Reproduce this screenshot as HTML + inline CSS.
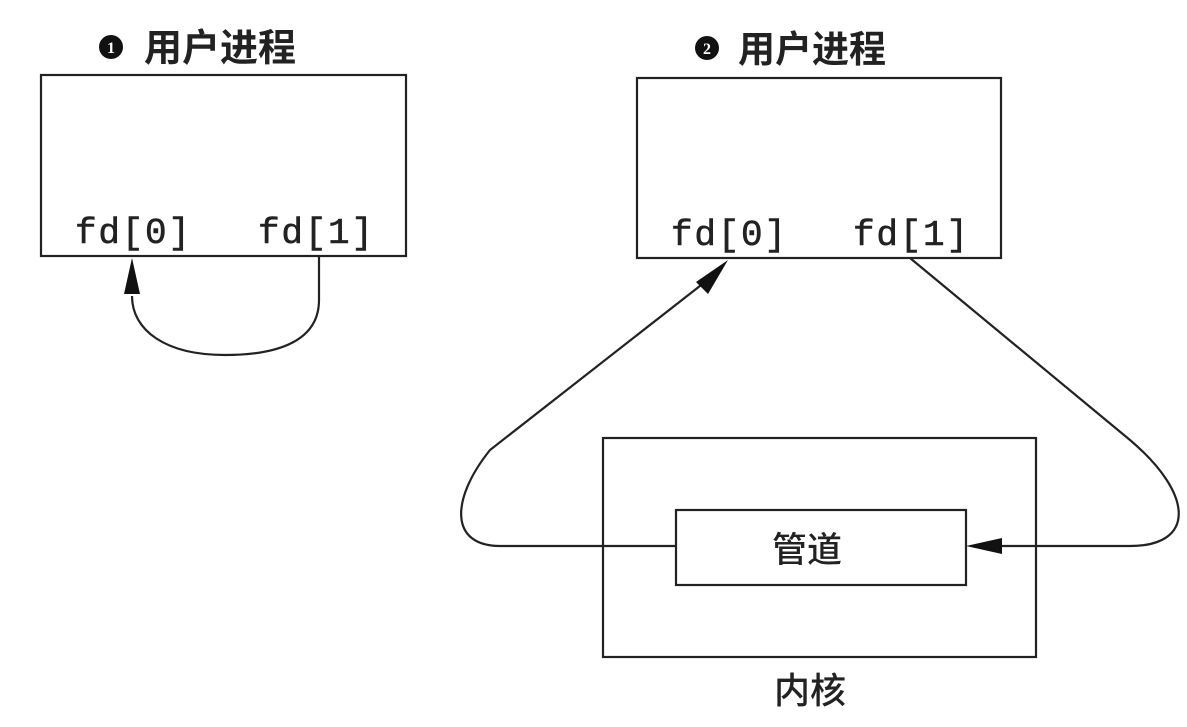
<!DOCTYPE html>
<html><head><meta charset="utf-8"><style>html,body{margin:0;padding:0;background:#fff}</style></head>
<body>
<svg width="1187" height="722" viewBox="0 0 1187 722" xmlns="http://www.w3.org/2000/svg">
<g fill="none" stroke="#222" stroke-width="2.2">
<rect x="41" y="75" width="365" height="181"/>
<rect x="637" y="78" width="364" height="180"/>
<rect x="603" y="438" width="433" height="219"/>
<rect x="676" y="510" width="290" height="75"/>
<path d="M319 256 L319 300 C319 340 280 355 225 355 C165 355 132 330 132 296"/>
<path d="M910 258 L1130 440 C1195 495 1195 546 1130 546 L1000 546"/>
<path d="M676 546 L500 546 C450 546 450 500 490 450 L705 282"/>
</g>
<g fill="#111">
<polygon points="132,258 124,294 140,294"/>
<polygon points="966,546 1002,538 1002,554"/>
<polygon points="728,260 696,282 708,294"/>
<circle cx="111" cy="47" r="12"/>
<circle cx="707" cy="48" r="12"/>
</g>
<g fill="#fff" font-family="Liberation Serif, serif" font-size="16" font-weight="bold" text-anchor="middle">
<text x="111" y="53">1</text><text x="707" y="54">2</text>
</g>
<g fill="#222" font-family="Liberation Sans, Noto Sans CJK SC, sans-serif" font-weight="bold">
<text x="144" y="61" font-size="38">用户进程</text>
<text x="738" y="62" font-size="37">用户进程</text>
</g>
<g fill="#222" font-family="Liberation Sans, Noto Sans CJK SC, sans-serif" font-weight="500">
<text x="772" y="562" font-size="35">管道</text>
<text x="774" y="703" font-size="36">内核</text>
</g>
<g fill="#222" font-family="Liberation Mono, monospace" font-size="36" stroke="#222" stroke-width="0.6">
<text x="75" y="243" textLength="115">fd[0]</text>
<text x="258" y="243" textLength="115">fd[1]</text>
<text x="671" y="245" textLength="115">fd[0]</text>
<text x="853" y="245" textLength="115">fd[1]</text>
</g>
</svg>
</body></html>
